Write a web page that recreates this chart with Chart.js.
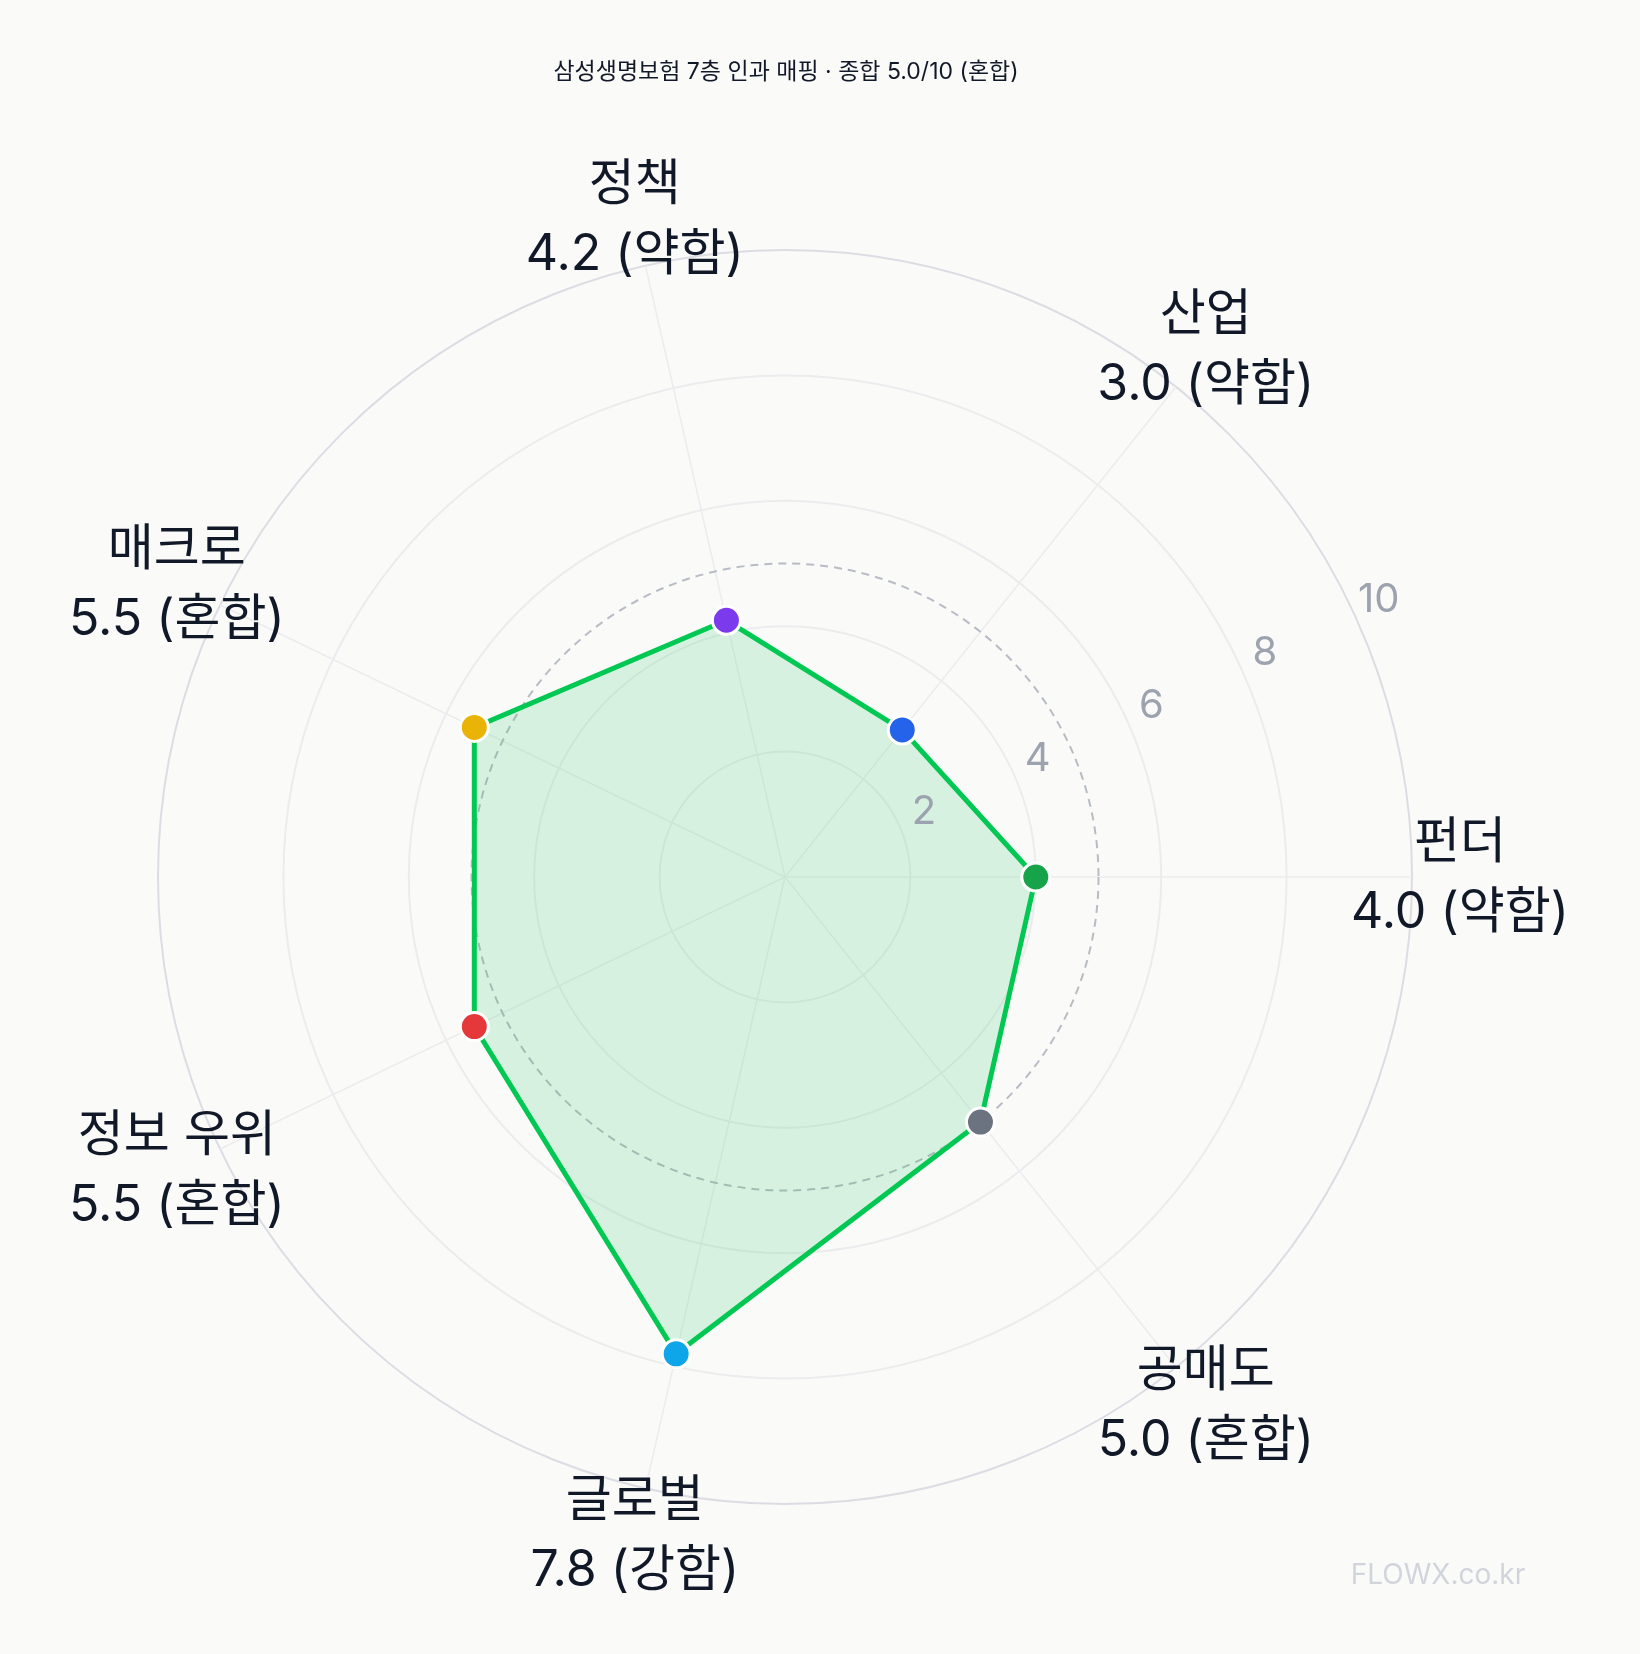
<!DOCTYPE html>
<html>
<head>
<meta charset="utf-8">
<script src="https://cdn.jsdelivr.net/npm/chart.js@4"></script>
<style>
  html, body { margin: 0; padding: 0; background: #fafaf9; }
  #wrap { width: 1640px; height: 1654px; position: relative; }
</style>
</head>
<body>
<div id="wrap"><canvas id="chart"></canvas></div>
<script>
const title = "삼성생명보험 7층 인과 매핑 · 종합 5.0/10 (혼합)";
// clockwise from the right-hand axis
const categories = ["펀더", "공매도", "글로벌", "정보 우위", "매크로", "정책", "산업"];
const scores = [4.0, 5.0, 7.8, 5.5, 5.5, 4.2, 3.0];
const verdicts = ["약함", "혼합", "강함", "혼합", "혼합", "약함", "약함"];
const pointColors = ["#16a34a", "#6b7280", "#0ea5e9", "#e5383b", "#eab308", "#7c3aed", "#2563eb"];
const tickLabels = [2, 4, 6, 8, 10];
const threshold = 5;

const font = "'Inter', 'Noto Sans CJK KR', sans-serif";

const overlay = {
  id: "overlay",
  beforeDatasetsDraw(chart) {
    const { ctx } = chart;
    const r = chart.scales.r;
    ctx.save();
    ctx.setLineDash([8, 6]);
    ctx.strokeStyle = "#b8bcc4";
    ctx.lineWidth = 2;
    ctx.beginPath();
    ctx.arc(r.xCenter, r.yCenter, r.getDistanceFromCenterForValue(threshold), 0, Math.PI * 2);
    ctx.stroke();
    ctx.restore();
  },
  afterDraw(chart) {
    const { ctx } = chart;
    const r = chart.scales.r;
    ctx.save();
    ctx.textAlign = "center";
    ctx.textBaseline = "middle";
    // radial tick labels
    ctx.fillStyle = "#9ca3af";
    ctx.font = `40px ${font}`;
    const a = -25 * Math.PI / 180;
    tickLabels.forEach((v) => {
      const d = r.getDistanceFromCenterForValue(v) + 28;
      ctx.fillText(String(v), r.xCenter + d * Math.cos(a), r.yCenter + d * Math.sin(a));
    });
    // category labels
    ctx.fillStyle = "#111827";
    ctx.font = `50px ${font}`;
    categories.forEach((c, i) => {
      const p = r.getPointPosition(i, r.getDistanceFromCenterForValue(10) + 48);
      ctx.fillText(c, p.x, p.y - 34);
      ctx.fillText(`${scores[i].toFixed(1)} (${verdicts[i]})`, p.x, p.y + 36);
    });
    // title & watermark
    ctx.font = `23px ${font}`;
    ctx.fillText(title, 786, 72);
    ctx.fillStyle = "#d1d5db";
    ctx.font = `28px ${font}`;
    ctx.fillText("FLOWX.co.kr", 1438, 1576);
    ctx.restore();
  },
};

new Chart(document.getElementById("chart"), {
  type: "radar",
  data: {
    labels: categories,
    datasets: [{
      data: scores,
      borderColor: "#00c853",
      borderWidth: 5,
      backgroundColor: "rgba(34, 197, 94, 0.16)",
      fill: true,
      pointBackgroundColor: pointColors,
      pointBorderColor: "#ffffff",
      pointBorderWidth: 3,
      pointRadius: 14,
    }],
  },
  options: {
    responsive: true,
    maintainAspectRatio: false,
    animation: false,
    layout: { padding: { left: 158, right: 228, top: 250, bottom: 150 } },
    plugins: { legend: { display: false }, tooltip: { enabled: false } },
    scales: {
      r: {
        min: 0,
        max: 10,
        startAngle: 90,
        ticks: { display: false, stepSize: 2 },
        pointLabels: { display: false },
        grid: { color: (c) => (c.tick && c.tick.value === 10 ? "#dcdde3" : "#ececee"), lineWidth: 2, circular: true },
        angleLines: { color: "#ececee", lineWidth: 1.5 },
      },
    },
  },
  plugins: [overlay],
});
</script>
</body>
</html>
